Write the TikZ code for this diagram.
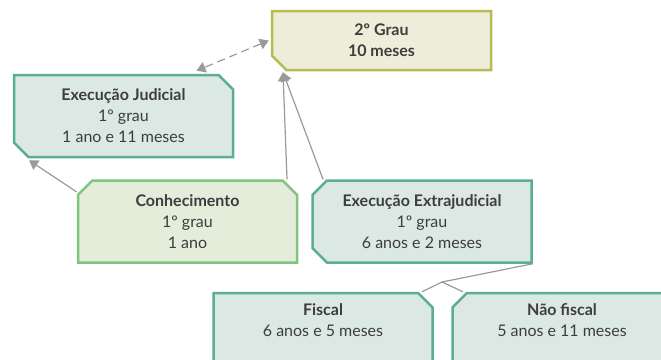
\documentclass[tikz,border=0pt]{standalone}
\usepackage{fontspec}
\setmainfont{Lato}
\usetikzlibrary{shapes.misc,arrows.meta}
\definecolor{olivefill}{HTML}{EDEDDA}
\definecolor{oliveline}{HTML}{B6BC52}
\definecolor{tealfill}{HTML}{DCE8E4}
\definecolor{tealline}{HTML}{5AAE98}
\definecolor{greenfill}{HTML}{E3EDDA}
\definecolor{greenline}{HTML}{80C47E}
\definecolor{linkgray}{HTML}{9A9A9A}
\definecolor{textgray}{HTML}{3D3D3D}

\begin{document}
\begin{tikzpicture}[x=1pt,y=-1pt,
        box/.style={chamfered rectangle,chamfered rectangle xsep=11pt,chamfered rectangle angle=45,
          line width=2.5pt,minimum width=219pt,minimum height=82pt,inner sep=0pt,
          align=center,text=textgray,font=\fontsize{16}{21}\selectfont},
        olivebox/.style={box,draw=oliveline,fill=olivefill,minimum height=59pt},
        tealbox/.style={box,draw=tealline,fill=tealfill},
        greenbox/.style={box,draw=greenline,fill=greenfill},
        link/.style={draw=linkgray,line width=1.2pt},
        arrowed/.style={-{Triangle[width=11pt,length=9pt]}}]

    \useasboundingbox (0,0) rectangle (661,359);
    \clip (0,0) rectangle (661,359);

    % Second instance
    \node[olivebox,chamfered rectangle corners={south west}] (grau2) at (381.5,40.5)
        {\textbf{2º Grau}\\\textbf{10 meses}};

    % First instance
    \node[tealbox,chamfered rectangle corners={north east,south west}] (judicial) at (123.5,116)
        {\textbf{Execução Judicial}\\1º grau\\1 ano e 11 meses};
    \node[greenbox,chamfered rectangle corners={north west,north east}] (conhec) at (187.5,221.5)
        {\textbf{Conhecimento}\\1º grau\\1 ano};
    \node[tealbox,chamfered rectangle corners={north west,south west}] (extra) at (422,221.5)
        {\textbf{Execução Extrajudicial}\\1º grau\\6 anos e 2 meses};

    % Split of the extrajudicial execution
    \node[tealbox,chamfered rectangle corners={north east}] (fiscal) at (323,334)
        {\textbf{Fiscal}\\6 anos e 5 meses\\\strut};
    \node[tealbox,chamfered rectangle corners={north west}] (naofiscal) at (562,334)
        {\textbf{Não fiscal}\\5 anos e 11 meses\\\strut};
    \coordinate (split) at (442,282);

    % Links to the second instance
    \draw[link,dashed,dash pattern=on 8pt off 5pt,{Triangle[width=11pt,length=9pt]}-{Triangle[width=11pt,length=9pt]}]
        ([xshift=-2pt]grau2.west) -- ([xshift=73pt,yshift=3pt]judicial.north);
    \draw[link,arrowed] ([xshift=99.5pt]conhec.north) -- ([xshift=-98.5pt,yshift=-1pt]grau2.south);
    \draw[link,arrowed] ([xshift=-99pt]extra.north) -- ([xshift=-98.5pt,yshift=-1pt]grau2.south);

    % Link from knowledge to judicial execution
    \draw[link,arrowed] ([yshift=29.5pt]conhec.west) -- ([xshift=-94.5pt,yshift=-2pt]judicial.south);

    % Links from extrajudicial execution
    \draw[link] (extra.south east) -- (split);
    \draw[link] (split) -- ([xshift=99pt]fiscal.north);
    \draw[link] (split) -- ([xshift=-99pt]naofiscal.north);
\end{tikzpicture}
\end{document}
